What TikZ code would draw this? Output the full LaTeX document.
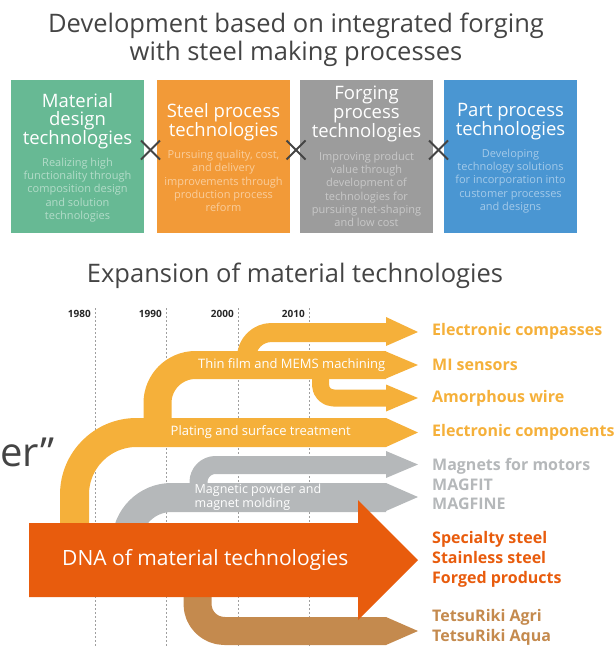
\documentclass[tikz,border=0pt]{standalone}
\usepackage{fontspec}
\setmainfont{Open Sans}
\definecolor{cgreen}{HTML}{67B994}
\definecolor{corange}{HTML}{F29A38}
\definecolor{cgray}{HTML}{9C9C9C}
\definecolor{cblue}{HTML}{4A96D2}
\definecolor{yel}{HTML}{F5B03A}
\definecolor{lgray}{HTML}{B5B8BA}
\definecolor{dnared}{HTML}{E85C0D}
\definecolor{cbrown}{HTML}{C48A4E}
\definecolor{ink}{HTML}{444444}
\newcommand{\fs}[2]{\fontsize{#1}{#2}\selectfont}
\begin{document}
\begin{tikzpicture}[x=1pt,y=-1pt,
  box/.style={fill=#1, draw=none, inner sep=0pt},
  boxtitle/.style={text=white, align=center, font=\fs{18.5}{18.8}, inner sep=0pt},
  boxdesc/.style={align=center, font=\fs{11}{13.3}, inner sep=0pt},
  xmark/.style={ink, line width=1.8pt},
  yearline/.style={gray!75, line width=0.9pt, dash pattern=on 2pt off 2pt},
  year/.style={font=\bfseries\fs{10}{10}, text=black!85, anchor=east, inner sep=0pt},
  band/.style={line cap=butt, line join=round},
  bandtext/.style={text=white, font=\fs{13}{12}, inner sep=0pt},
  lab/.style={anchor=west, inner sep=0pt, font=\bfseries\fs{16}{19.5}, align=left}
]
\useasboundingbox (0,0) rectangle (614,648);

% titles
\node[text=ink, font=\fs{25.5}{27.5}, align=center] (title) at (296,40) {Development based on integrated forging\\with steel making processes};

% boxes
\node[box=cgreen, minimum width=133pt, minimum height=153pt] (b1) at (77.5,156.5) {};
\node[box=corange, minimum width=133pt, minimum height=153pt] (b2) at (223.5,156.5) {};
\node[box=cgray, minimum width=133pt, minimum height=153pt] (b3) at (366.5,156.5) {};
\node[box=cblue, minimum width=133pt, minimum height=153pt] (b4) at (510.5,156.5) {};

\node[boxtitle] (t1) at (77.5,121) {Material\\design\\technologies};
\node[boxdesc, text=white!50!cgreen] (d1) at (77.5,190) {Realizing high\\functionality through\\composition design\\and solution\\technologies};
\node[boxtitle] (t2) at (223.5,122) {Steel process\\technologies};
\node[boxdesc, text=white!50!corange] (d2) at (223.5,181) {Pursuing quality, cost,\\and delivery\\improvements through\\production process\\reform};
\node[boxtitle] (t3) at (366.5,114) {Forging\\process\\technologies};
\node[boxdesc, text=white!45!cgray] (d3) at (366.5,189.5) {Improving product\\value through\\development of\\technologies for\\pursuing net-shaping\\and low cost};
\node[boxtitle] (t4) at (510.5,122) {Part process\\technologies};
\node[boxdesc, text=white!50!cblue] (d4) at (510.5,181) {Developing\\technology solutions\\for incorporation into\\customer processes\\and designs};

% X marks
\foreach \cx/\nm in {150.5/xa,296/xb,438.5/xc}{
  \coordinate (\nm) at (\cx,150);
  \draw[xmark] ([shift={(-9.5,-9.5)}]\nm) -- ([shift={(9.5,9.5)}]\nm);
  \draw[xmark] ([shift={(-9.5,9.5)}]\nm) -- ([shift={(9.5,-9.5)}]\nm);
}

\node[text=ink, font=\fs{25.5}{27}] (title2) at (295,276) {Expansion of material technologies};

\node[text=ink, font=\fs{40}{40}, anchor=west, inner sep=0pt] (er) at (0,452) {er”};

% year lines
\foreach \lx/\yr in {95/1980,166/1990,238/2000,309/2010}{
  \draw[yearline] (\lx,308) -- (\lx,648);
  \node[year] (y\yr) at (\lx-4,314) {\yr};
}

% orange bands
\draw[band, yel, line width=29pt, rounded corners=62pt] (74.5,545) -- (74.5,432.5) -- (386,432.5);
\draw[band, yel, line width=28pt, rounded corners=38pt] (157.5,432) -- (157.5,365) -- (386,365);
\draw[band, yel, line width=19pt, rounded corners=25pt] (246.5,365) -- (246.5,332.5) -- (386,332.5);
\draw[band, yel, line width=17pt, rounded corners=13pt] (320.5,365) -- (320.5,398) -- (386,398);
% gray bands
\draw[band, lgray, line width=18pt, rounded corners=17pt] (198.5,497) -- (198.5,465) -- (386,465);
\draw[band, lgray, line width=29pt, rounded corners=45pt] (126.5,545) -- (126.5,497.5) -- (386,497.5);
% brown band
\draw[band, cbrown, line width=28pt, rounded corners=27pt] (197.5,580) -- (197.5,631) -- (386,631);

% heads
\coordinate (hA) at (418,332); \coordinate (hB) at (418,365); \coordinate (hC) at (418,398);
\coordinate (hD) at (418,432.5); \coordinate (hE) at (418,464.5); \coordinate (hF) at (418,497);
\coordinate (hG) at (418,560); \coordinate (hH) at (418,631);
\fill[yel] (386,317) -- (hA) -- (386,346) -- cycle;
\fill[yel] (386,351.5) -- (hB) -- (386,378.5) -- cycle;
\fill[yel] (386,384.5) -- (hC) -- (386,411.5) -- cycle;
\fill[yel] (386,418) -- (hD) -- (386,447) -- cycle;
\fill[lgray] (386,451) -- (hE) -- (386,478) -- cycle;
\fill[lgray] (386,483) -- (hF) -- (386,511) -- cycle;
\fill[cbrown] (386,617) -- (hH) -- (386,645) -- cycle;

% DNA arrow
\fill[dnared] (29,523) -- (358,523) -- (358,500) -- (hG) -- (358,620) -- (358,597) -- (29,597) -- cycle;
\node[text=white, font=\fs{21}{21}, anchor=west, inner sep=0pt] (dna) at (62,560) {DNA of material technologies};

% band texts
\node[bandtext, anchor=east] (thin) at (385.5,365) {Thin film and MEMS machining};
\node[bandtext, anchor=west] (plat) at (170.5,432.5) {Plating and surface treatment};
\node[bandtext, anchor=west, align=left, font=\fs{12.5}{12}] (magp) at (194.5,497) {Magnetic powder and\\magnet molding};

% right labels
\node[lab, text=yel] (l1) at (432,331) {Electronic compasses};
\node[lab, text=yel] (l2) at (432,365) {MI sensors};
\node[lab, text=yel] (l3) at (432,398) {Amorphous wire};
\node[lab, text=yel] (l4) at (432,432) {Electronic components};
\node[lab, text=lgray, font=\bfseries\fs{16}{19.8}] (l5) at (432,484) {Magnets for motors\\MAGFIT\\MAGFINE};
\node[lab, text=dnared, font=\bfseries\fs{16}{19.8}] (l6) at (432,559.5) {Specialty steel\\Stainless steel\\Forged products};
\node[lab, text=cbrown, font=\bfseries\fs{16}{20.5}] (l7) at (432,627.5) {TetsuRiki Agri\\TetsuRiki Aqua};
\end{tikzpicture}
\end{document}
